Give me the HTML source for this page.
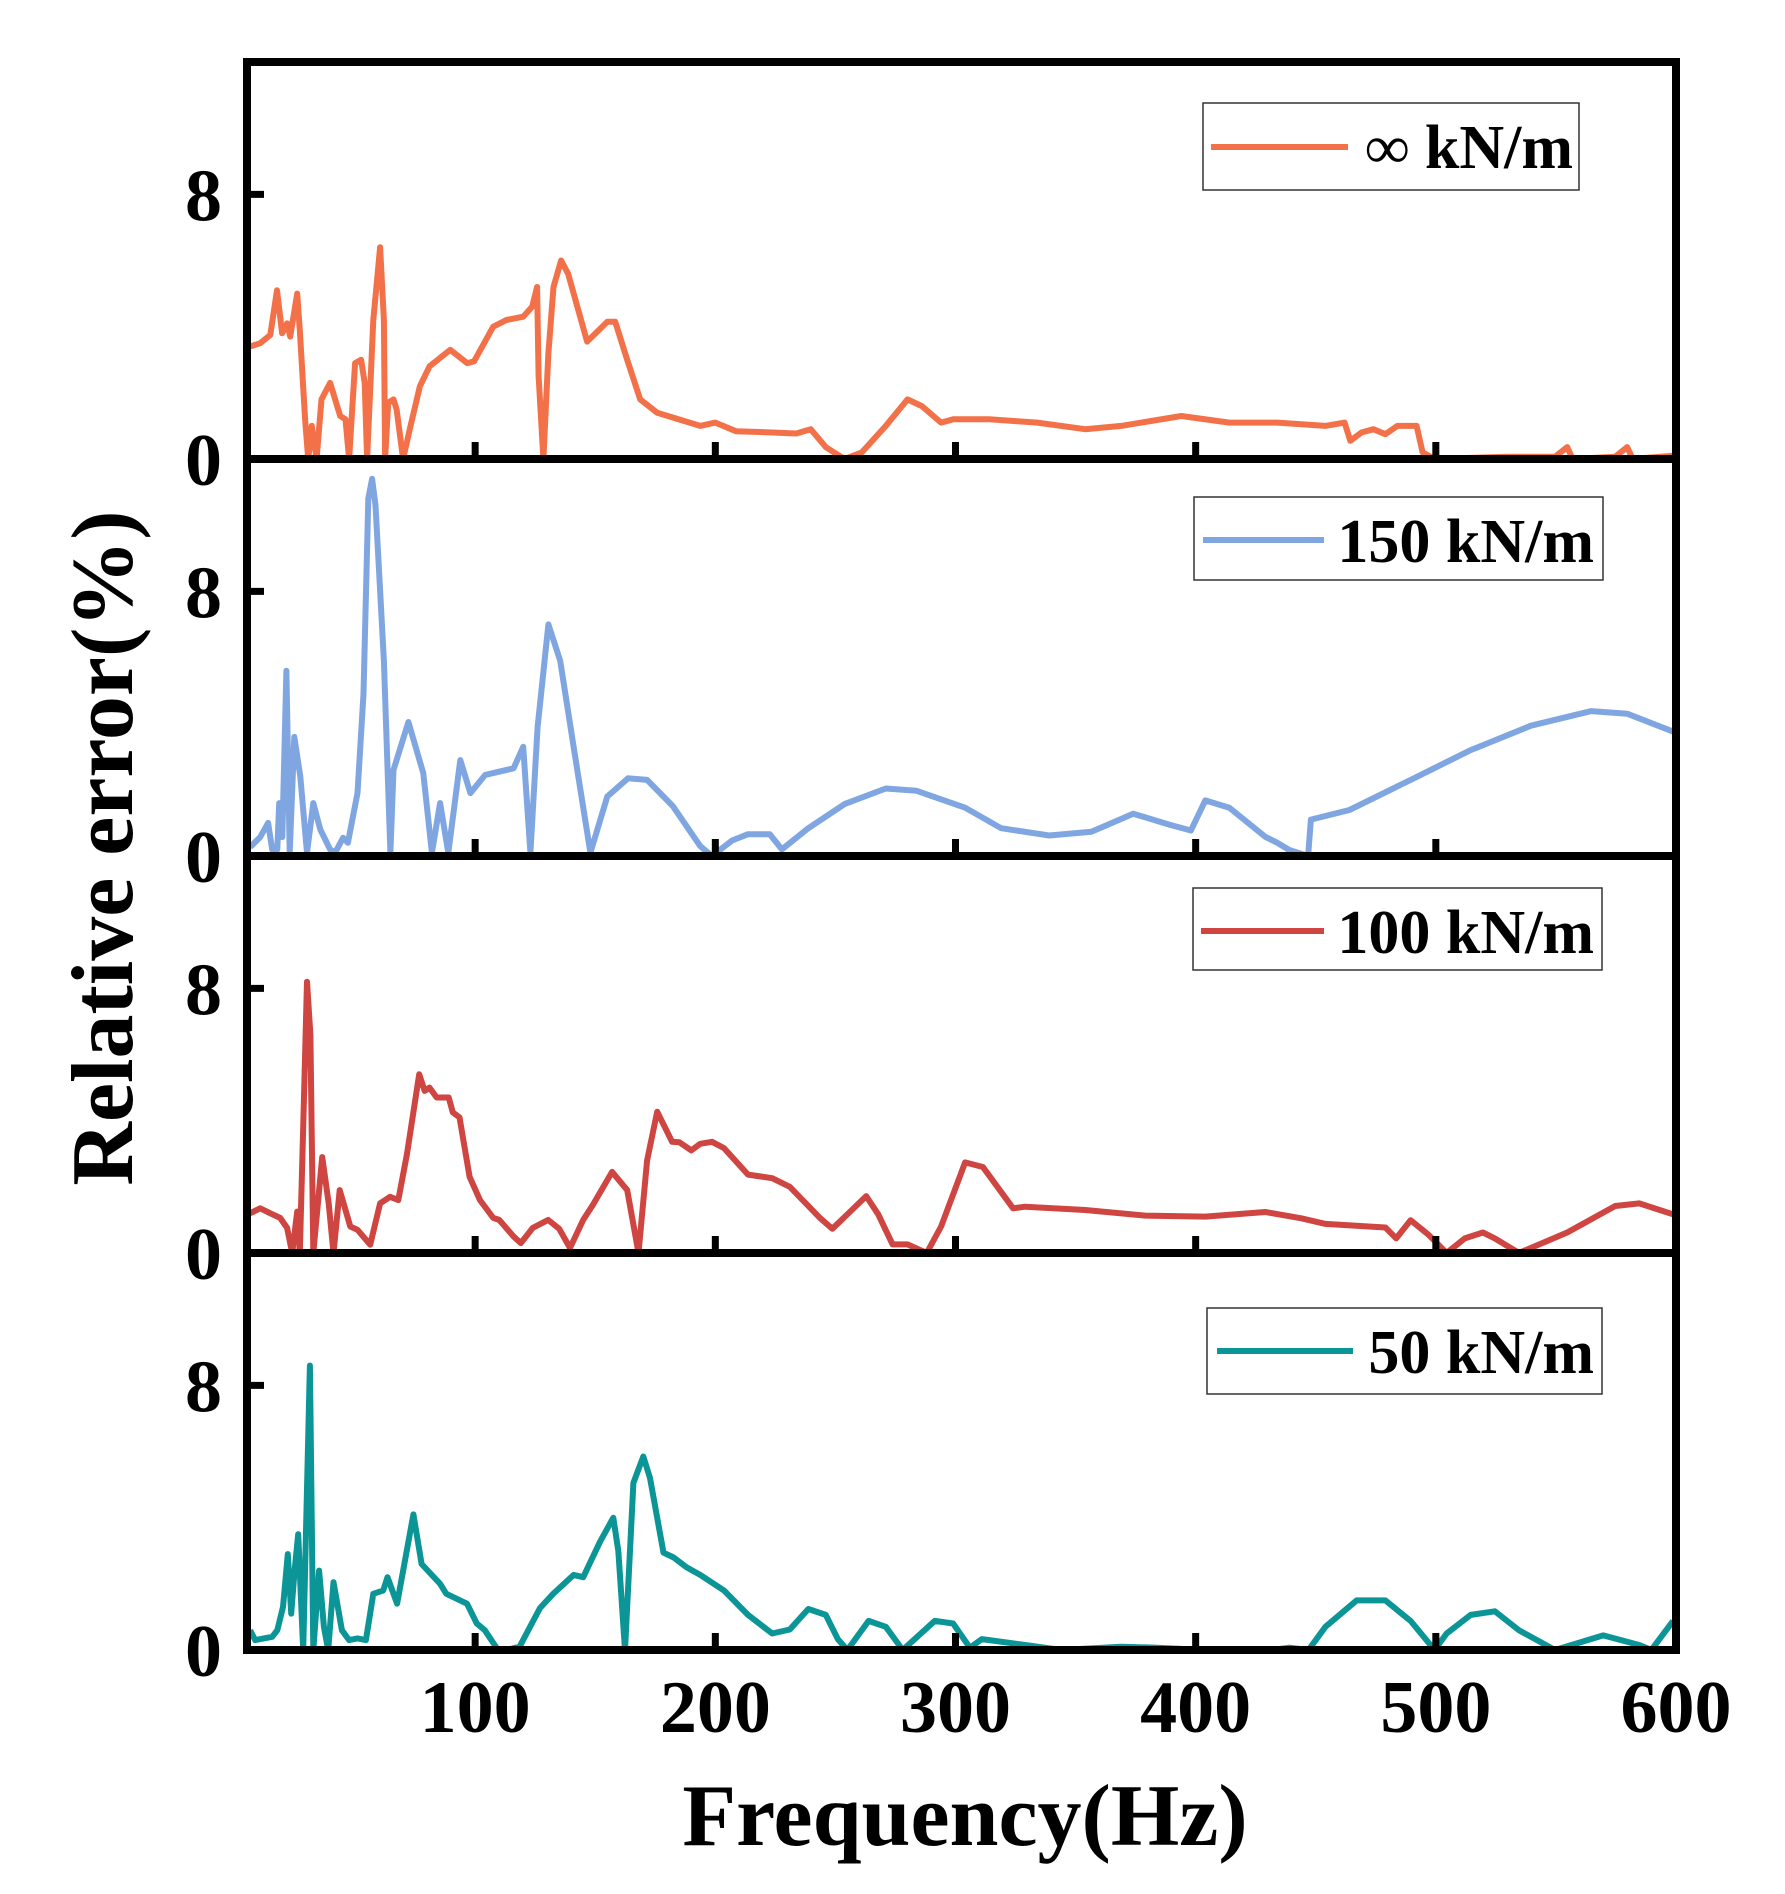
<!DOCTYPE html>
<html><head><meta charset="utf-8"><style>
html,body{margin:0;padding:0;background:#fff;}
svg{display:block;}
text{font-family:"Liberation Serif",serif;font-weight:bold;fill:#000;}
</style></head><body>
<svg id="chart" width="1785" height="1894" viewBox="0 0 1785 1894" xmlns="http://www.w3.org/2000/svg">
<defs></defs>
</svg>
<script>
const xTicks=[100,200,300,400,500,600];
const yTicks=[0,8];
const labels=["∞ kN/m","150 kN/m","100 kN/m","50 kN/m"];
const colors=["#F37148","#7FA6E0","#CF4541","#0C9596"];

const f1=[6.3,10.5,14.7,17.5,19.6,21.7,23,25.9,27,29.2,30.5,32,34,36,39.6,43.8,46,47.5,50,52.5,54,55,57.6,60.4,62,62.5,63.8,66,67.3,70,73,77,81,89.6,96.7,99.5,107.5,113,120,123.7,125.8,126.4,128.4,130.5,132.6,135.8,138.7,146.6,155,158.3,163.3,168.7,175.8,193.7,200,208.6,223.7,233.7,239.7,246,253.8,261,271,280,286,294,299,314,334,354,369,394,414,434,454,462,464.4,469,474,479,484,492,494.5,499.5,529.6,549.6,554.7,557,574.7,579.7,582,598.8];
const v1=[3.4,3.5,3.75,5.1,3.8,4.1,3.7,5.0,3.9,1.2,0,1.0,0,1.8,2.3,1.3,1.2,0,2.9,3.0,2.3,0,4.2,6.4,4.2,0,1.7,1.8,1.5,0,0.97,2.2,2.8,3.3,2.9,2.95,4.0,4.2,4.3,4.6,5.2,2.5,0,3.2,5.2,6.0,5.6,3.55,4.15,4.15,3.0,1.8,1.4,1.0,1.1,0.84,0.8,0.77,0.9,0.36,0,0.2,1.0,1.8,1.6,1.1,1.2,1.2,1.1,0.9,1.0,1.3,1.1,1.1,1.0,1.1,0.55,0.8,0.9,0.75,1.0,1.0,0.2,0,0.07,0.07,0.36,0,0.07,0.36,0,0.1];

const f2=[6.3,10.5,13.8,15.5,17.6,18.4,19.7,21.4,22.8,24.7,27.2,30,32.6,35.5,39.6,41.7,45,47,51,53.5,55.5,57.1,58.5,62,64.7,66,72.2,78.4,82,85.4,88.8,93.8,98,104.2,116,120,123,126,130.5,135.4,140.8,148,155,163.7,171.6,182.4,193.7,198.6,207,213.6,222.7,227.7,238.7,253.8,271,283.8,304,319,339,356.6,374,389,398,404,414,429,434,439,446.8,448,464,489.5,514.5,539.6,564.7,579.7,598.8];
const v2=[0.27,0.57,1.0,0.2,0.2,1.6,0.57,5.6,0.1,3.6,2.4,0.1,1.6,0.8,0.2,0.1,0.55,0.4,1.9,4.9,10.8,11.4,10.6,5.9,0.1,2.6,4.05,2.5,0.1,1.6,0.1,2.9,1.9,2.45,2.65,3.3,0.1,3.9,7.0,5.9,3.4,0.1,1.8,2.35,2.3,1.5,0.3,0,0.47,0.66,0.66,0.2,0.84,1.57,2.04,1.97,1.46,0.84,0.62,0.73,1.28,0.95,0.77,1.68,1.46,0.58,0.4,0.18,0,1.1,1.39,2.3,3.2,3.94,4.38,4.3,3.76];

const f3=[6.3,10.5,14.7,18.8,21.7,23.8,25.9,27,28.4,30,31.4,32.6,36.3,39,41,43.6,48,51,56.3,60.4,64.6,68,71.6,76.7,79,81,84,89,90.7,93.5,97.7,102,107.5,110,116,119,124,130.4,135,139.5,145,149,157,163.3,168,171.6,175.8,182,185,190,193.7,198.6,203.6,213.6,223.7,231,243.7,248.7,256,262.8,267.8,273.8,280,288,294,304,311.4,324,329,354,379,404,429,444,454,479,483.5,489.5,497,504.5,512,519.6,524.6,534.6,554.7,574.7,584.7,598.8];
const v3=[1.2,1.35,1.2,1.06,0.76,0,1.25,0,3.8,8.2,6.6,0,2.9,1.5,0,1.9,0.8,0.7,0.25,1.5,1.7,1.6,3.0,5.4,4.9,5.0,4.7,4.7,4.25,4.1,2.3,1.6,1.06,1.0,0.5,0.3,0.76,1.0,0.73,0.15,1.0,1.45,2.45,1.9,0,2.8,4.27,3.36,3.35,3.1,3.3,3.36,3.17,2.37,2.26,2.0,1.05,0.73,1.24,1.72,1.17,0.26,0.26,0,0.8,2.74,2.6,1.35,1.4,1.3,1.13,1.1,1.24,1.05,0.88,0.77,0.44,0.99,0.55,0,0.44,0.62,0.44,0,0.62,1.42,1.5,1.17];

const f4=[6.3,8.4,12,15.5,17.6,20,22,23.4,24.8,26.3,27.3,28.4,31.2,32.6,35,37,38.8,41,44.5,47.5,51,54.5,57.6,61.7,63.5,67.5,74.3,77.7,85.4,88,96.6,100.7,104,109.5,113,118.5,127,132.5,141,145,152,157.5,159.6,162.4,165.9,170,172.8,178.4,182.6,188,193.7,203.6,213.6,223.7,231,238.7,246,251,255,263.8,271,278,291.4,299,306,311,329,344,369,384,404,432,439,447,454,467,479,489.5,499.5,504.5,514.5,524.6,534.6,549.6,569.7,584.7,589.7,598.8];
const v4=[0.6,0.3,0.35,0.4,0.6,1.3,2.9,1.1,2.4,3.5,1.8,0,8.6,0,2.4,0.7,0,2.05,0.6,0.3,0.35,0.3,1.7,1.8,2.2,1.4,4.1,2.6,2.0,1.7,1.4,0.8,0.6,0,0,0.1,1.27,1.7,2.27,2.2,3.27,4.0,3.0,0,5.05,5.85,5.2,2.94,2.8,2.5,2.27,1.8,1.06,0.5,0.62,1.24,1.06,0.33,0,0.88,0.7,0,0.88,0.8,0.07,0.33,0.15,0,0.1,0.07,0,0,0.07,0,0.7,1.5,1.5,0.88,0,0.5,1.06,1.17,0.6,0,0.44,0.15,0,0.88];

const freqs=[f1,f2,f3,f4];
const vals=[v1,v2,v3,v4];

const NS="http://www.w3.org/2000/svg";
const svg=document.getElementById('chart');
const L=247,R=1676,TOP=62,PH=397;
const XMIN=5,XMAX=600,YMAX=12;
function xs(f){return L+(f-XMIN)/(XMAX-XMIN)*(R-L);}
function ys(p,v){const base=TOP+PH*(p+1);return base-v/YMAX*PH;}
function mk(tag,attrs,parent){const e=document.createElementNS(NS,tag);for(const k in attrs)e.setAttribute(k,attrs[k]);(parent||svg).appendChild(e);return e;}

const defs=svg.querySelector('defs');
const lgBoxes=[[1203,103,376,87,1211,1348,147,1573,168],[1194,497,409,83,1203,1324,540,1594,562],[1193,888,409,82,1201,1324,931,1594,953],[1207,1308,395,86,1217,1353,1351,1594,1373]];

for(let p=0;p<4;p++){
  const g=mk('g',{});
  
  
  const cp=mk('clipPath',{id:'cp'+p},defs);
  mk('rect',{x:L,y:TOP+PH*p,width:R-L,height:PH},cp);
  let d='';
  for(let i=0;i<freqs[p].length;i++){d+=(i?'L':'M')+xs(freqs[p][i]).toFixed(1)+','+ys(p,vals[p][i]).toFixed(1);}
  const path=mk('path',{d:d,fill:'none',stroke:colors[p],'stroke-width':6,'stroke-linejoin':'round','clip-path':'url(#cp'+p+')'},g);
  
  
  for(const t of xTicks){
    if(t>=XMAX)continue;
    const tk=mk('line',{x1:xs(t),x2:xs(t),y1:ys(p,0),y2:ys(p,0)-17,stroke:'#000','stroke-width':7},g);
    
    
  }
  for(const t of yTicks){
    if(t>0){
      const tk=mk('line',{x1:L,x2:L+17,y1:ys(p,t),y2:ys(p,t),stroke:'#000','stroke-width':7},g);
      
      
    }
    const tl=mk('text',{x:222,y:ys(p,t)+26,'text-anchor':'end','font-size':74},g);
    tl.textContent=String(t);
    
    
  }
  const b=lgBoxes[p];
  const lg=mk('g',{},g);
  
  
  mk('rect',{x:b[0],y:b[1],width:b[2],height:b[3],fill:'#fff',stroke:'#333','stroke-width':1.5},lg);
  mk('line',{x1:b[4],x2:b[5],y1:b[6],y2:b[6],stroke:colors[p],'stroke-width':6},lg);
  const lt=mk('text',{x:b[7],y:b[8],'text-anchor':'end','font-size':62},lg);
  lt.textContent=labels[p];
}
for(let p=1;p<4;p++){
  const ln=mk('line',{x1:L,x2:R,y1:TOP+PH*p,y2:TOP+PH*p,stroke:'#000','stroke-width':8});
  
  
}
const fr=mk('rect',{x:L,y:TOP,width:R-L,height:PH*4,fill:'none',stroke:'#000','stroke-width':8});


for(const t of xTicks){
  const tl=mk('text',{x:xs(t),y:1732,'text-anchor':'middle','font-size':74});
  tl.textContent=String(t);
  
  
}
const xt=mk('text',{x:965,y:1845,'text-anchor':'middle','font-size':88});
xt.textContent='Frequency(Hz)';


const yt=mk('text',{x:0,y:0,'text-anchor':'middle','font-size':88,transform:'translate(132,848) rotate(-90)'});
yt.textContent='Relative error(%)';


</script>
</body></html>
